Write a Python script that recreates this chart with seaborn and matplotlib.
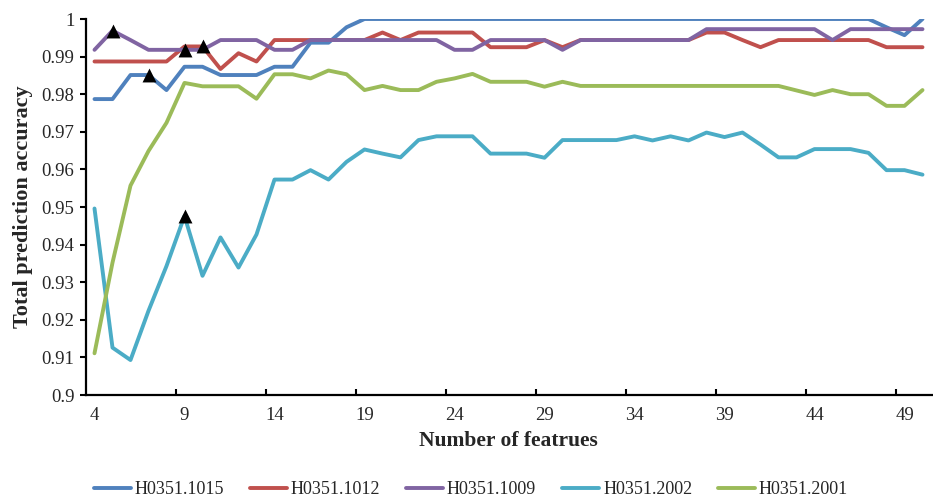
import matplotlib
matplotlib.use("Agg")
import matplotlib.pyplot as plt
from matplotlib.ticker import FixedLocator, FuncFormatter
import seaborn as sns
import pandas as pd

# ---------------- data ----------------
n_features = list(range(4, 51))

series_names = ["H0351.1015", "H0351.1012", "H0351.1009", "H0351.2002", "H0351.2001"]

acc_1015 = [0.9787, 0.9787, 0.9851, 0.9851, 0.9811, 0.9873, 0.9873, 0.9851, 0.9851, 0.9851,
            0.9873, 0.9873, 0.9937, 0.9937, 0.9978, 1.0,
            1.0, 1.0, 1.0, 1.0, 1.0, 1.0, 1.0, 1.0, 1.0, 1.0,
            1.0, 1.0, 1.0, 1.0, 1.0, 1.0, 1.0, 1.0, 1.0, 1.0,
            1.0, 1.0, 1.0, 1.0, 1.0, 1.0, 1.0, 1.0,
            0.9978, 0.9957, 1.0]

acc_1012 = [0.9887, 0.9887, 0.9887, 0.9887, 0.9887, 0.9927, 0.9927, 0.9867, 0.9909, 0.9887,
            0.9944, 0.9944, 0.9944, 0.9944, 0.9944, 0.9944, 0.9964, 0.9944,
            0.9964, 0.9964, 0.9964, 0.9964, 0.9925, 0.9925, 0.9925, 0.9944, 0.9925,
            0.9944, 0.9944, 0.9944, 0.9944, 0.9944, 0.9944, 0.9944,
            0.9964, 0.9964, 0.9944, 0.9925,
            0.9944, 0.9944, 0.9944, 0.9944, 0.9944, 0.9944,
            0.9925, 0.9925, 0.9925]

acc_1009 = [0.9918, 0.9969, 0.9944, 0.9918, 0.9918, 0.9918, 0.9918, 0.9944, 0.9944, 0.9944,
            0.9918, 0.9918, 0.9944, 0.9944, 0.9944, 0.9944, 0.9944, 0.9944, 0.9944, 0.9944,
            0.9918, 0.9918, 0.9944, 0.9944, 0.9944, 0.9944, 0.9918,
            0.9944, 0.9944, 0.9944, 0.9944, 0.9944, 0.9944, 0.9944,
            0.9973, 0.9973, 0.9973, 0.9973, 0.9973, 0.9973, 0.9973, 0.9944,
            0.9973, 0.9973, 0.9973, 0.9973, 0.9973]

acc_2002 = [0.9496, 0.9126, 0.9093, 0.9224, 0.9343, 0.9476, 0.9317, 0.9419, 0.9339, 0.9427,
            0.9573, 0.9573, 0.9598, 0.9573, 0.9620, 0.9653, 0.9642, 0.9632, 0.9678,
            0.9688, 0.9688, 0.9688, 0.9642, 0.9642, 0.9642, 0.9631,
            0.9678, 0.9678, 0.9678, 0.9678, 0.9688, 0.9677, 0.9688, 0.9677,
            0.9698, 0.9686, 0.9698, 0.9666, 0.9632, 0.9632, 0.9654, 0.9654, 0.9654,
            0.9644, 0.9598, 0.9598, 0.9586]

acc_2001 = [0.9111, 0.9352, 0.9557, 0.9649, 0.9724, 0.9830, 0.9821, 0.9821, 0.9821, 0.9788,
            0.9853, 0.9853, 0.9842, 0.9863, 0.9853, 0.9811, 0.9822, 0.9811, 0.9811,
            0.9833, 0.9842, 0.9854, 0.9833, 0.9833, 0.9833, 0.9820, 0.9833,
            0.9822, 0.9822, 0.9822, 0.9822, 0.9822, 0.9822, 0.9822, 0.9822,
            0.9822, 0.9822, 0.9822, 0.9822,
            0.9810, 0.9798, 0.9811, 0.9800, 0.9800, 0.9769, 0.9769, 0.9811]

series_values = [acc_1015, acc_1012, acc_1009, acc_2002, acc_2001]
series_colors = ["#4F81BD", "#C0504D", "#8064A2", "#4BACC6", "#9BBB59"]

# highlighted (triangle) points: which series and which feature count
marker_series = ["H0351.1009", "H0351.1015", "H0351.1009", "H0351.1012", "H0351.2002"]
marker_n = [5, 7, 9, 10, 9]

x_tick_labels = [4, 9, 14, 19, 24, 29, 34, 39, 44, 49]
y_ticks = [0.9, 0.91, 0.92, 0.93, 0.94, 0.95, 0.96, 0.97, 0.98, 0.99, 1.0]

# ---------------- frame ----------------
rows = []
for name, vals in zip(series_names, series_values):
    for n, v in zip(n_features, vals):
        rows.append({"n": n, "acc": v, "series": name})
df = pd.DataFrame(rows)

lookup = {(r.series, r.n): r.acc for r in df.itertuples()}
mk = pd.DataFrame({"n": marker_n,
                   "acc": [lookup[(s, n)] for s, n in zip(marker_series, marker_n)]})

# ---------------- style ----------------
sns.set_style("white")
plt.rcParams["font.family"] = ["Liberation Serif", "DejaVu Serif"]

fig = plt.figure(figsize=(9.33, 5.0), dpi=100)
ax = fig.add_axes([85.5 / 933, 0.21, (931.5 - 85.5) / 933, 0.962 - 0.21])

sns.lineplot(data=df, x="n", y="acc", hue="series", hue_order=series_names,
             palette=dict(zip(series_names, series_colors)),
             linewidth=2.8, ax=ax, legend=True)
sns.scatterplot(data=mk, x="n", y="acc", marker="^", color="black", s=100,
                linewidth=0, ax=ax, legend=False, zorder=5)

ax.set_xlim(3.5, 50.5)
ax.set_ylim(0.9, 1.0)

# spines
for side in ["top", "right"]:
    ax.spines[side].set_visible(False)
for side in ["left", "bottom"]:
    ax.spines[side].set_color("black")
    ax.spines[side].set_linewidth(1.6)

# y ticks
ax.yaxis.set_major_locator(FixedLocator(y_ticks))
ax.yaxis.set_major_formatter(FuncFormatter(lambda v, p: f"{v:.2f}".rstrip("0").rstrip(".")))
ax.tick_params(axis="y", which="major", direction="out", length=4, width=1.5,
               color="black", labelsize=13.5, pad=4, left=True)

# x ticks: labels at category centres, tick marks at category boundaries
ax.xaxis.set_major_locator(FixedLocator(x_tick_labels))
ax.xaxis.set_major_formatter(FuncFormatter(lambda v, p: f"{int(round(v))}"))
ax.xaxis.set_minor_locator(FixedLocator([v - 0.5 for v in x_tick_labels[1:]]))
ax.tick_params(axis="x", which="major", length=0, labelsize=13.5, pad=9, bottom=True)
ax.tick_params(axis="x", which="minor", direction="in", length=4, width=1.5,
               color="black", bottom=True)

ax.set_xlabel("Number of featrues", fontsize=15.5, fontweight="bold", labelpad=5)
ax.set_ylabel("Total prediction accuracy", fontsize=16, fontweight="bold", labelpad=6)

# legend at the bottom of the figure
handles, labels = ax.get_legend_handles_labels()
ax.legend_.remove()
for h in handles:
    h.set_linewidth(2.8)
fig.legend(handles, labels, loc="center", bbox_to_anchor=(471 / 933, 1 - 490 / 500),
           ncol=5, frameon=False, fontsize=13, handlelength=2.05, handletextpad=0.2,
           columnspacing=1.45, borderaxespad=0)

fig.savefig("out.png", dpi=100)
